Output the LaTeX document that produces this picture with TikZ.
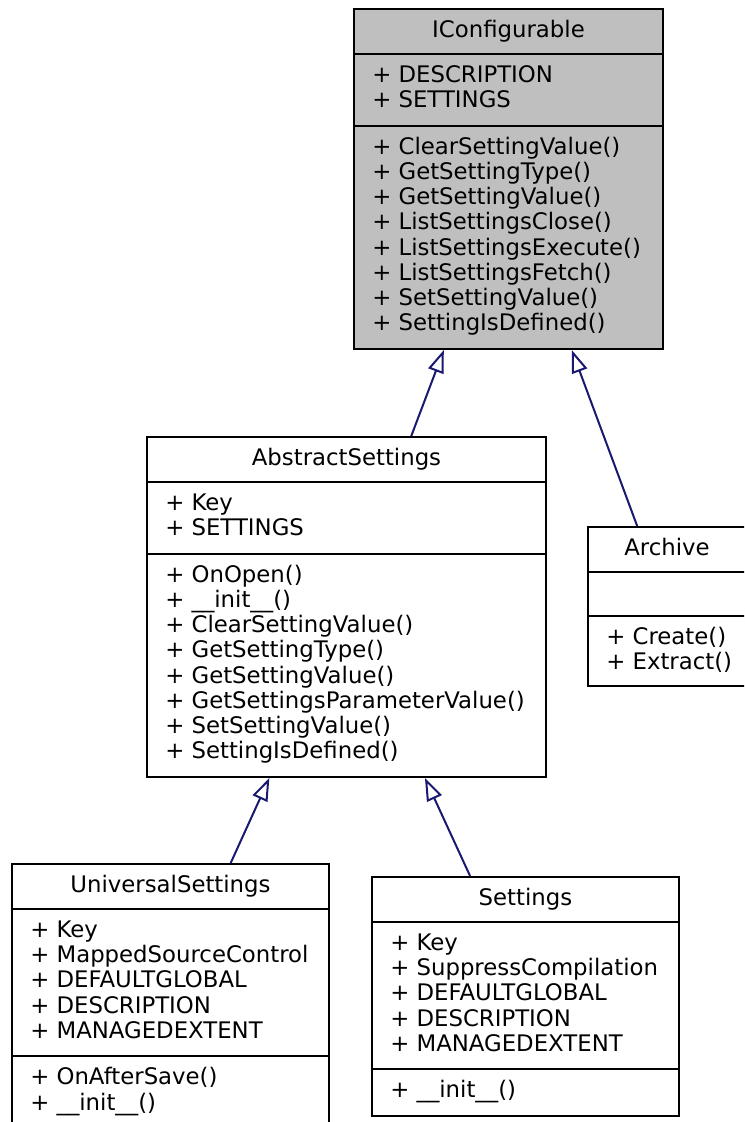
\documentclass[tikz,border=0pt]{standalone}
\usepackage{fontspec}
\setmainfont{DejaVu Sans}
\usetikzlibrary{arrows.meta,fit}
\definecolor{edgeblue}{HTML}{191970}
\definecolor{basegray}{HTML}{BFBFBF}

\begin{document}
\begin{tikzpicture}[x=0.75pt,y=-0.75pt,
    classbox/.style={draw,line width=1.5pt,inner sep=0pt},
    sepline/.style={line width=1.5pt},
    classname/.style={anchor=base,inner sep=0pt,font=\fontsize{17.1}{20}\selectfont},
    member/.style={anchor=base west,inner sep=0pt,font=\fontsize{17.1}{20}\selectfont},
    inherit/.style={edgeblue,line width=1.5pt,-{Triangle[open,length=17pt,width=12pt]}}]
    \useasboundingbox (0,0) rectangle (744,1122);
    \clip (0,0) rectangle (744,1122);
    \node[classbox,fill=basegray,fit={(354,9) (663,349)}] (iconf) {};
    \draw[sepline] (354,54)--(663,54);\draw[sepline] (354,125.7)--(663,125.7);
    \node[classname] (iconf-name) at (508.5,37) {IConfigurable};
    \foreach \m [count=\i from 0] in {DESCRIPTION,SETTINGS}{\node[member] (iconf-a\i) at (372,{82.5+25.2*\i}) {+ \m};}
    \foreach \m [count=\i from 0] in {ClearSettingValue,GetSettingType,GetSettingValue,ListSettingsClose,ListSettingsExecute,ListSettingsFetch,SetSettingValue,SettingIsDefined}{\node[member] (iconf-m\i) at (372,{154.2+25.2*\i}) {+ \m()};}
    \node[classbox,fit={(147,437) (546,777)}] (abs) {};
    \draw[sepline] (147,482)--(546,482);\draw[sepline] (147,553.7)--(546,553.7);
    \node[classname] (abs-name) at (346.5,465) {AbstractSettings};
    \foreach \m [count=\i from 0] in {Key,SETTINGS}{\node[member] (abs-a\i) at (165,{510.5+25.2*\i}) {+ \m};}
    \foreach \m [count=\i from 0] in {OnOpen,\_\_init\_\_,ClearSettingValue,GetSettingType,GetSettingValue,GetSettingsParameterValue,SetSettingValue,SettingIsDefined}{\node[member] (abs-m\i) at (165,{582.2+25.2*\i}) {+ \m()};}
    \node[classbox,fit={(588,527) (746,686)}] (arch) {};
    \draw[sepline] (588,572)--(746,572);\draw[sepline] (588,616)--(746,616);
    \node[classname] (arch-name) at (667,555) {Archive};
    \foreach \m [count=\i from 0] in {Create,Extract}{\node[member] (arch-m\i) at (606,{644.5+25.2*\i}) {+ \m()};}
    \node[classbox,fit={(12,864) (329,1128)}] (usett) {};
    \draw[sepline] (12,909)--(329,909);\draw[sepline] (12,1056.3)--(329,1056.3);
    \node[classname] (usett-name) at (170.5,892) {UniversalSettings};
    \foreach \m [count=\i from 0] in {Key,MappedSourceControl,DEFAULTGLOBAL,DESCRIPTION,MANAGEDEXTENT}{\node[member] (usett-a\i) at (30,{937.5+25.2*\i}) {+ \m};}
    \foreach \m [count=\i from 0] in {OnAfterSave,\_\_init\_\_}{\node[member] (usett-m\i) at (30,{1084.8+25.2*\i}) {+ \m()};}
    \node[classbox,fit={(372,877) (679,1115.8)}] (sett) {};
    \draw[sepline] (372,922)--(679,922);\draw[sepline] (372,1069.3)--(679,1069.3);
    \node[classname] (sett-name) at (525.5,905) {Settings};
    \foreach \m [count=\i from 0] in {Key,SuppressCompilation,DEFAULTGLOBAL,DESCRIPTION,MANAGEDEXTENT}{\node[member] (sett-a\i) at (390,{950.5+25.2*\i}) {+ \m};}
    \node[member] (sett-m0) at (390,1097.8) {+ \_\_init\_\_()};
    \draw[inherit] (abs)--(iconf);
    \draw[inherit] (arch)--(iconf);
    \draw[inherit] (usett)--(abs);
    \draw[inherit] (sett)--(abs);
  \end{tikzpicture}
\end{document}
